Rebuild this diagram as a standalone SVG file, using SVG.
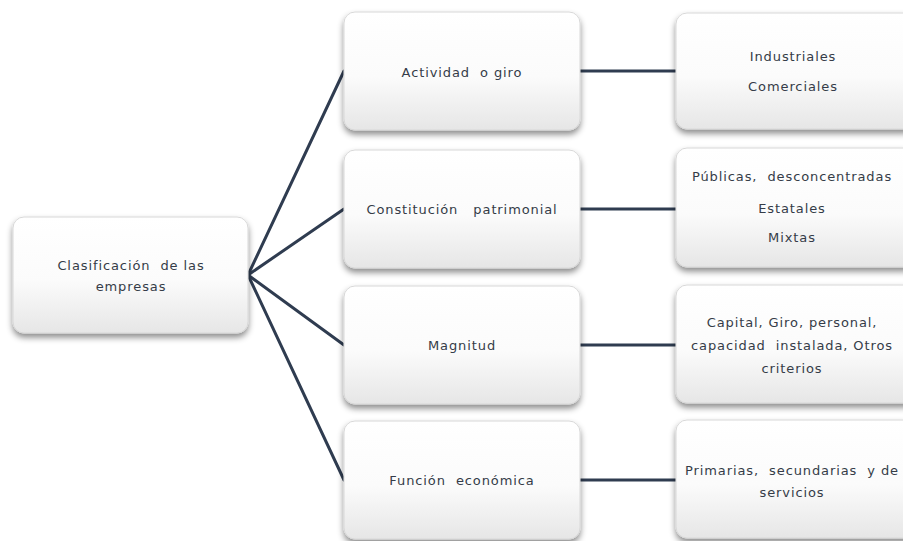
<svg xmlns="http://www.w3.org/2000/svg" width="903" height="541" viewBox="0 0 903 541">
<style>
.box{fill:url(#g);stroke:#d8d8d8;stroke-width:1;filter:url(#sh)}
.t{font-family:"DejaVu Sans",Verdana,sans-serif;font-size:13px;letter-spacing:0.9px;fill:#353c48;text-anchor:middle;white-space:pre}
.c{stroke:#2f3c50;stroke-width:3;fill:none;stroke-linecap:round}
</style>
<defs>
<linearGradient id="g" x1="0" y1="0" x2="0" y2="1">
<stop offset="0" stop-color="#ffffff"/>
<stop offset="0.55" stop-color="#fbfbfb"/>
<stop offset="1" stop-color="#e6e6e6"/>
</linearGradient>
<filter id="sh" x="-10%" y="-10%" width="120%" height="130%">
<feDropShadow dx="0" dy="4" stdDeviation="3" flood-color="#000" flood-opacity="0.45"/>
</filter>
</defs>
<rect width="903" height="541" fill="#ffffff"/>
<g id="connectors">
<line class="c" x1="248" y1="275" x2="344" y2="71"/>
<line class="c" x1="248" y1="275" x2="344" y2="209"/>
<line class="c" x1="248" y1="275" x2="344" y2="345"/>
<line class="c" x1="248" y1="275" x2="344" y2="480"/>
<line class="c" x1="580" y1="71" x2="676" y2="71"/>
<line class="c" x1="580" y1="209" x2="676" y2="209"/>
<line class="c" x1="580" y1="345" x2="676" y2="345"/>
<line class="c" x1="580" y1="480" x2="676" y2="480"/>
</g>
<g id="root">
<rect class="box" x="13" y="217" width="235" height="116" rx="11"/>
<text class="t" x="131" y="270">Clasificación  de las</text>
<text class="t" x="131" y="291">empresas</text>
</g>
<g id="actividad">
<rect class="box" x="344" y="12" width="236" height="118" rx="11"/>
<text class="t" x="462" y="77">Actividad  o giro</text>
</g>
<g id="constitucion">
<rect class="box" x="344" y="150" width="236" height="118" rx="11"/>
<text class="t" x="462" y="214">Constitución   patrimonial</text>
</g>
<g id="magnitud">
<rect class="box" x="344" y="286" width="236" height="118" rx="11"/>
<text class="t" x="462" y="350">Magnitud</text>
</g>
<g id="funcion">
<rect class="box" x="344" y="421" width="236" height="118" rx="11"/>
<text class="t" x="462" y="485">Función  económica</text>
</g>
<g id="actividad-detalle">
<rect class="box" x="676" y="13" width="240" height="116" rx="11"/>
<text class="t" x="793" y="61">Industriales</text>
<text class="t" x="793" y="91">Comerciales</text>
</g>
<g id="constitucion-detalle">
<rect class="box" x="676" y="148" width="240" height="119" rx="11"/>
<text class="t" x="792" y="181">Públicas,  desconcentradas</text>
<text class="t" x="792" y="213">Estatales</text>
<text class="t" x="792" y="242">Mixtas</text>
</g>
<g id="magnitud-detalle">
<rect class="box" x="676" y="285" width="240" height="118" rx="11"/>
<text class="t" x="792" y="327">Capital, Giro, personal,</text>
<text class="t" x="792" y="350">capacidad  instalada, Otros</text>
<text class="t" x="792" y="373">criterios</text>
</g>
<g id="funcion-detalle">
<rect class="box" x="676" y="420" width="240" height="118" rx="11"/>
<text class="t" x="792" y="475">Primarias,  secundarias  y de</text>
<text class="t" x="792" y="497">servicios</text>
</g>
</svg>
